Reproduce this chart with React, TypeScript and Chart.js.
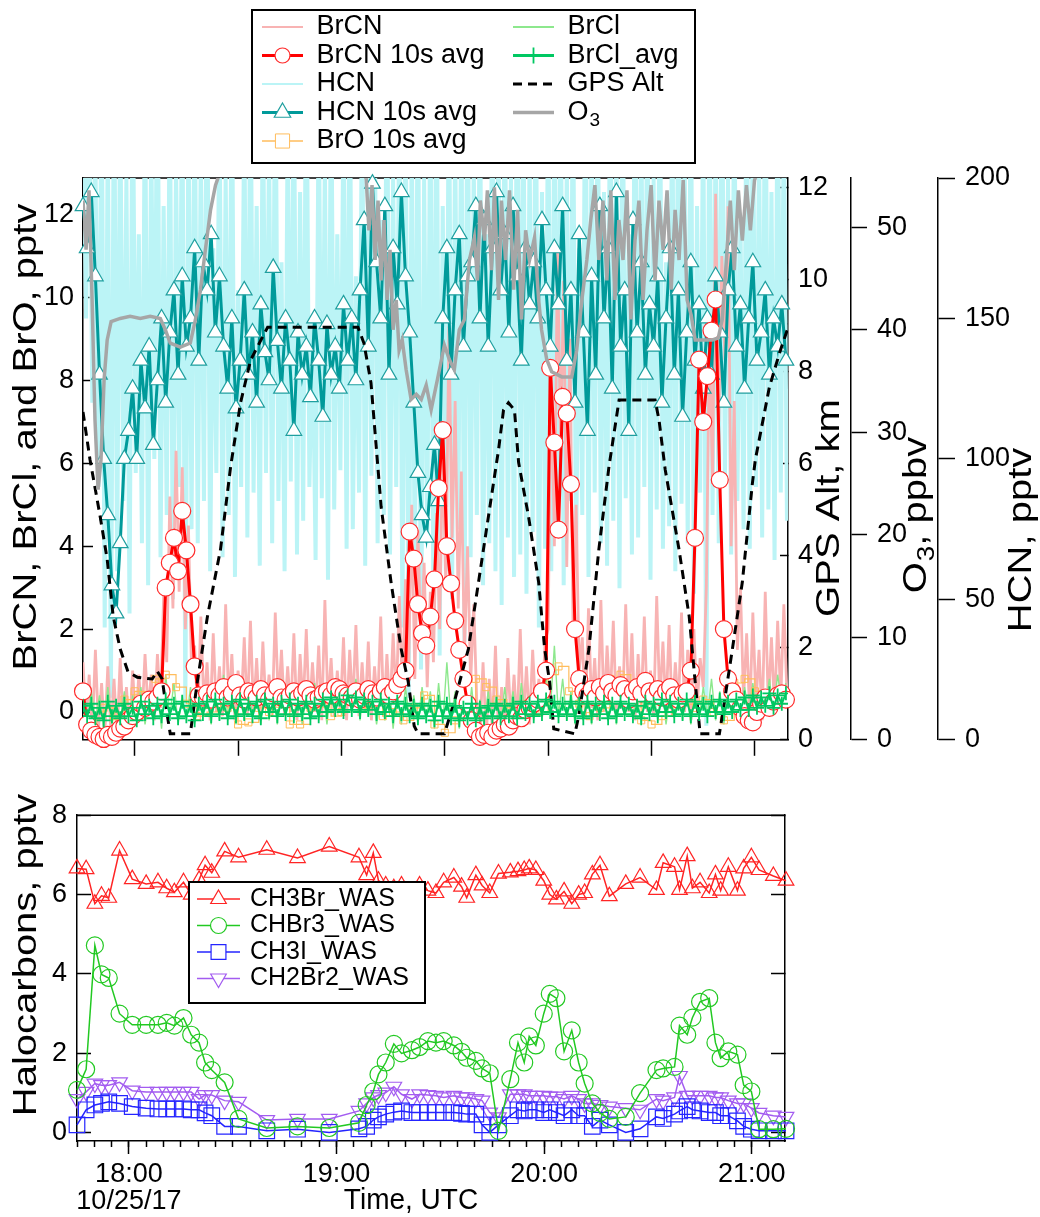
import React, { useEffect, useRef } from 'react';
import { Chart, registerables } from 'chart.js';

Chart.register(...registerables);

const FONT = '"Liberation Sans", Arial, Helvetica, sans-serif';

// ---------------- time axis (decimal hours UTC) ----------------
const T_MIN = 17.75;
const T_MAX = 21.16;
const AVG_T0 = 17.75; // 10 s averaged series, one value per 1.2 min
const AVG_DT = 0.02;
const RAW_T0 = 17.75; // raw series, one value per 0.9 min
const RAW_DT = 0.015;
const BRO_T0 = 17.75; // BrO 10 s avg, one value per 3 min
const BRO_DT = 0.05;

const X_TICK_HOURS = [18, 19, 20, 21];
const X_TICK_LABELS = ['18:00', '19:00', '20:00', '21:00'];
const DATE_LABEL = '10/25/17';

// ---------------- top panel data ----------------
const brcnRaw = [
  1.2, -0.3, 0.9, -0.5, 1.5, -0.4, 0.7, -0.6, 1.1, -0.5, 0.8, -0.6, 1.3, -0.4, 0.6, -0.5, 1.0, -0.3, 0.9, -0.2, 1.4, 0.0,
  0.9, -0.2, 1.4, 0.1, 2.8, 1.2, 5.2, 2.5, 6.3, 2.9, 5.9, 2.0, 4.5, 1.0,
  1.6, -0.1, 2.3, 0.1, 1.2, -0.2, 1.9, 0.0, 1.1, -0.1, 2.6, 0.2, 1.4, -0.2, 1.0, 0.1, 1.8, -0.1, 2.2, 0.0,
  1.3, -0.2, 1.7, 0.1, 0.9, -0.1, 2.4, 0.2, 1.5, -0.1, 1.1, 0.0, 1.9, -0.2, 1.4, 0.1, 2.0, -0.1, 1.2, 0.0,
  1.6, -0.2, 2.7, 0.1, 1.3, -0.1, 1.0, 0.0, 1.8, -0.2, 1.5, 0.1, 2.1, -0.1, 1.2, 0.0, 1.7, -0.2, 1.1, 0.1,
  2.3, -0.1, 1.4, 0.0, 1.9, 0.2, 2.8,
  0.5, 3.2, 1.0, 5.0, 0.8, 4.4, 1.5, 3.6, 0.6, 2.9, 1.2, 4.8, 2.0, 6.5, 3.0, 9.3, 4.2, 7.5, 2.5, 5.8, 1.4, 4.0, 0.7, 2.6, 0.2,
  -0.5, 1.2, -0.6, 0.8, -0.4, 1.6, -0.6, 0.6, -0.5, 1.3, -0.3, 0.9, -0.4, 2.0, -0.2, 1.1, -0.3, 1.5, 0.0, 0.8, -0.1, 1.7,
  2.0, 8.5, 4.0, 11.2, 6.5, 10.4, 3.5, 9.0, 2.2, 5.0, 1.0,
  1.8, -0.1, 2.5, 0.1, 1.3, -0.2, 2.7, 0.0, 1.6, 0.2, 2.2, -0.1, 1.1, 0.1, 2.6, 0.0, 1.9, -0.2, 1.4, 0.1,
  2.3, 0.0, 1.0, -0.1, 2.8, 0.2, 1.7, 0.0, 2.1, -0.1, 1.2, 0.1, 2.4, 0.0, 1.5, -0.2, 2.0, 0.1, 1.3, 0.6,
  3.0, 9.0, 5.5, 12.5, 7.0, 11.0, 8.5, 12.2, 4.0, 7.5, 1.5, 3.0,
  0.3, 1.9, -0.1, 2.4, 0.2, 1.5, -0.2, 2.9, 0.1, 1.8, 0.0, 2.2, 0.3, 2.6, 0.4,
];

const hcnRaw = [
  230, 150, 245, 120, 210, 90, 240, 40, 220, 15, 250,
  60, 230, 85, 200, 45, 250, 95, 180, 70, 240, 55, 215, 100, 260, 65, 190, 80, 235, 50, 205, 90, 245, 10, 225, 75,
  240, 70, 210, 85, 255, 60, 175, 95, 230, 65, 200, 80, 250, 58, 160, 90, 225, 72, 245, 88,
  190, 62, 235, 95, 210, 70, 255, 85, 170, 60, 220, 92, 240, 66, 195, 78, 260, 90, 150, 64,
  230, 86, 205, 57, 245, 82, 180, 96, 225, 68, 250, 75, 165, 88, 235, 62, 215, 94, 240, 70,
  185, 80, 255, 66, 200, 90, 230,
  40, 240, 15, 220, 55, 250, 25, 200, 70, 235, 45, 260, 30, 190, 60, 245, 50, 215, 75, 230,
  35, 255, 65, 205, 80, 240, 55, 180, 70, 250, 60, 225, 48, 245, 72, 200, 58, 260, 66, 235,
  52, 210, 74, 250, 40, 195, 68, 240,
  60, 230, 75, 250, 55, 205, 85, 240, 65, 175, 80, 255, 58, 220, 88, 235, 70, 195, 62, 250,
  78, 215, 54, 245, 86, 180, 66, 260, 72, 225, 90, 240, 57, 200, 82, 250, 68, 170, 76, 235,
  60, 255, 84, 210, 70, 245, 52, 190, 88, 230,
  5, 245, 80, 220, 70, 255, 92, 200, 66, 240, 85, 185, 75, 250, 68, 230, 90, 210, 72, 260, 82, 195, 64, 245, 88, 225, 78,
];

const brcnAvg = [
  0.5,
  -0.3, -0.45, -0.55, -0.6, -0.65, -0.55, -0.6, -0.5, -0.4, -0.35,
  -0.2, -0.1, 0.0, 0.2, 0.1, 0.3, 0.25,
  0.35, 0.5,
  3.0, 3.6, 4.2, 3.4, 4.85, 3.9, 2.6, 1.1, 0.4,
  0.35, 0.45, 0.3, 0.5, 0.4, 0.6, 0.35, 0.45, 0.7, 0.4, 0.3, 0.5, 0.45, 0.35, 0.55, 0.4, 0.3, 0.45, 0.6, 0.35,
  0.3, 0.4, 0.5, 0.35, 0.45, 0.55, 0.4, 0.3, 0.35, 0.45, 0.5, 0.4, 0.6, 0.55, 0.45, 0.4, 0.35, 0.5,
  0.3, 0.4, 0.55, 0.45, 0.35, 0.5, 0.6, 0.4, 0.5, 0.65, 0.8,
  1.0, 4.35, 3.7, 2.6, 1.9, 1.6, 2.3, 3.2, 5.4, 6.8, 4.0, 3.1, 2.2, 1.5, 0.8, 0.2,
  -0.2, -0.45, -0.6, -0.55, -0.5, -0.6, -0.45, -0.4, -0.3, -0.35, -0.2, -0.1, -0.15, 0.05, 0.1, 0.2, 0.3, 0.5,
  1.0, 8.3, 6.5, 4.4, 7.6, 7.2, 5.5, 2.0, 0.8, 0.5,
  0.4, 0.55, 0.35, 0.6, 0.45, 0.7, 0.5, 0.4, 0.65, 0.55, 0.3, 0.5, 0.6, 0.45, 0.75, 0.5, 0.4, 0.55, 0.35, 0.5,
  0.6, 0.4, 0.3, 0.45, 0.5, 1.0,
  4.2, 8.5, 7.0, 8.1, 9.2, 9.95, 5.6, 2.0, 0.8,
  0.5, 0.3, 0.1, -0.1, -0.2, -0.25, 0.0, 0.2, 0.35, 0.1, 0.25, 0.4, 0.45, 0.3,
];

const hcnAvg = [
  190, 175, 195, 165,
  130, 100, 80, 55, 45, 70, 100,
  110, 125, 100, 135, 118, 140, 105, 128, 150, 120, 145, 160, 130, 165, 140,
  150, 175, 135, 170, 160, 180, 145, 165,
  140, 125, 150, 118, 135, 160, 130, 145, 120, 155, 138, 128, 168, 142, 125, 150, 135, 110, 145, 130,
  140, 122, 150, 135, 115, 148, 130, 140, 125, 155, 135, 150, 128,
  160, 185, 140, 198, 170, 150, 190, 130, 175, 155, 195, 165, 145,
  120, 95, 80, 72, 90, 105, 85,
  150, 175, 130, 160, 180, 140, 165,
  170, 190, 150, 185, 140, 175, 195, 160, 180, 145, 190, 165, 135, 175, 155,
  170, 150, 185, 160, 140, 175, 155, 190,
  135, 160, 120, 180, 145, 110, 165, 130, 190,
  150, 175, 125, 195, 140, 160, 110, 185, 145, 170, 130, 155,
  140, 165, 120, 150, 175, 130, 160, 115, 145, 170, 135, 155, 125,
  150, 130, 165, 145, 120, 160, 175, 140, 155, 125, 150, 170, 135, 145, 160, 130, 150, 140, 155, 135,
];

const broAvg = [
  -0.15, -0.2, 0.1, -0.1, 0.3, 0.5, 0.4, 0.8, 0.9, 0.6,
  0.2, -0.1, 0.0, 0.2, 0.1, -0.3, -0.25, 0.1, 0.0, 0.2,
  -0.3, -0.3, 0.1, 0.2, -0.1, 0.0, 0.3, 0.1, 0.2, -0.1,
  0.0, -0.2, 0.1, 0.4, -0.3, -0.5, -0.2, 0.2, 0.8, 0.6,
  0.3, 0.1, -0.1, 0.2, 0.0, 0.9, 1.1, 0.5, 0.2, -0.1,
  0.1, 0.8, 0.9, 0.3, -0.2, -0.3, -0.1, 0.2, 0.4, 0.1,
  0.3, 0.0, -0.2, 0.7, 0.8, 0.5, 0.2, 0.4, 0.3,
];

const brclRaw = [
  0.3, -0.3, 0.5, -0.2, 0.4, -0.4, 0.6, -0.3, 0.2, -0.2,
  0.5, -0.3, 0.4, -0.1, 0.6, -0.3, 0.3, -0.2, 0.5, -0.4,
  0.9, -0.1, 0.7, -0.3, 0.4, -0.2, 0.6, -0.3, 0.5, -0.1,
  0.4, -0.3, 0.6, -0.2, 0.9, -0.1, 0.5, -0.3, 0.4, -0.2,
  0.6, -0.1, 0.5, -0.3, 0.7, -0.2, 0.4, -0.3, 0.8, -0.1,
  0.5, -0.2, 0.6, -0.3, 0.4, -0.1, 0.7, -0.2, 0.5, -0.3,
  0.6, 0.0, 0.7, -0.1, 0.5, 0.0, 0.8, -0.2, 0.6, -0.1,
  0.5, -0.3, 0.4, -0.2, 0.7, -0.4, 0.5, -0.3, 0.6, -0.2,
  0.4, -0.3, 0.6, -0.2, 0.5, -0.4, 0.7, -0.3, 1.2, -0.2,
  0.5, -0.4, 0.4, -0.3, 0.6, -0.4, 0.3, -0.3, 0.5, -0.2,
  0.4, -0.3, 0.6, -0.2, 0.5, -0.3, 0.7, -0.1, 0.4, -0.2,
  0.6, -0.1, 0.9, 0.0, 1.6, -0.1, 0.8, -0.2, 0.5, -0.3,
  0.6, -0.2, 0.5, -0.3, 0.7, -0.1, 0.4, -0.2, 0.6, -0.3,
  0.5, -0.1, 0.7, -0.2, 0.4, -0.3, 0.6, -0.1, 0.5, -0.2,
  0.7, -0.3, 0.4, -0.1, 0.6, -0.2, 0.5, -0.3, 0.4, -0.2,
  0.6, -0.1, 0.8, -0.2, 0.5, -0.3, 0.6, -0.1, 0.4, -0.2,
  0.6, 0.0, 0.7, -0.1, 0.5, 0.1, 0.8, 0.0, 0.9, 0.2,
  0.7,
];

const brclAvg = [
  0.15, -0.1, 0.2, -0.15, 0.1, -0.2, 0.25, -0.1, 0.15, -0.15,
  0.2, -0.1, 0.1, -0.2, 0.25, -0.05, 0.15, -0.15, 0.2, -0.1,
  0.3, -0.05, 0.2, -0.15, 0.25, -0.1, 0.15, -0.2, 0.2, -0.05,
  0.25, -0.1, 0.3, -0.05, 0.2, -0.15, 0.25, -0.1, 0.3, -0.05,
  0.2, -0.1, 0.25, -0.15, 0.3, 0.0, 0.2, -0.1, 0.25, -0.05,
  0.3, -0.1, 0.2, -0.05, 0.25, -0.15, 0.2, -0.1, 0.3, 0.0,
  0.35, 0.05, 0.3, 0.0, 0.4, 0.05, 0.35, 0.0, 0.3, 0.05,
  0.25, -0.05, 0.3, 0.0, 0.2, -0.1, 0.25, -0.05, 0.2, -0.1,
  0.15, -0.15, 0.2, -0.1, 0.15, -0.2, 0.25, -0.1, 0.2, -0.15,
  0.15, -0.2, 0.1, -0.15, 0.2, -0.2, 0.1, -0.15, 0.15, -0.1,
  0.2, -0.15, 0.15, -0.1, 0.2, -0.15, 0.25, -0.05, 0.2, -0.1,
  0.25, -0.05, 0.3, 0.0, 0.25, -0.1, 0.2, -0.05, 0.25, -0.1,
  0.2, -0.15, 0.25, -0.1, 0.2, -0.05, 0.25, -0.15, 0.2, -0.1,
  0.25, -0.05, 0.2, -0.1, 0.15, -0.15, 0.25, -0.05, 0.2, -0.1,
  0.3, 0.0, 0.25, -0.1, 0.2, -0.05, 0.3, -0.1, 0.25, -0.05,
  0.2, -0.1, 0.25, 0.0, 0.3, -0.05, 0.25, 0.0, 0.3, 0.05,
  0.35, 0.05, 0.4, 0.1, 0.35, 0.15, 0.45, 0.1, 0.4, 0.2,
  0.45,
];

const gpsTime = [
  17.750, 17.784, 17.833, 17.867, 17.896, 17.930, 17.968, 18.012, 18.085, 18.109,
  18.133, 18.158, 18.172, 18.269, 18.303, 18.352, 18.415, 18.464, 18.512, 18.561,
  18.643, 19.080, 19.109, 19.143, 19.192, 19.240, 19.289, 19.323, 19.352, 19.371,
  19.498, 19.546, 19.614, 19.663, 19.711, 19.760, 19.784, 19.808, 19.837, 19.857,
  19.905, 19.954, 19.983, 20.007, 20.027, 20.129, 20.148, 20.197, 20.245, 20.294,
  20.343, 20.517, 20.536, 20.566, 20.633, 20.682, 20.711, 20.735, 20.828, 20.842,
  20.891, 20.939, 20.988, 21.002, 21.070, 21.119, 21.172,
];
const gpsAlt = [
  7.12, 6.08, 4.85, 3.92, 2.68, 1.97, 1.47, 1.36, 1.32, 1.49,
  1.32, 0.52, 0.13, 0.13, 1.26, 2.68, 4.13, 5.93, 7.32, 8.25,
  8.96, 8.96, 8.61, 7.75, 5.06, 3.42, 1.97, 1.26, 0.30, 0.13,
  0.13, 0.82, 1.97, 3.42, 4.85, 6.30, 7.16, 7.32, 7.16, 6.02,
  4.85, 3.42, 1.97, 1.26, 0.24, 0.13, 0.52, 1.97, 4.13, 5.93,
  7.38, 7.38, 6.95, 5.87, 4.13, 2.68, 1.26, 0.13, 0.13, 0.52,
  1.97, 3.42, 5.58, 6.08, 7.66, 8.40, 9.11,
];

const o3Time = [
  17.750, 17.765, 17.779, 17.794, 17.808, 17.823, 17.837, 17.852, 17.867, 17.886,
  17.930, 17.978, 18.027, 18.075, 18.124, 18.148, 18.172, 18.221, 18.269, 18.294,
  18.318, 18.342, 18.367, 18.391, 18.415, 18.464, 18.998, 19.119, 19.133, 19.148,
  19.163, 19.177, 19.192, 19.206, 19.221, 19.235, 19.250, 19.265, 19.279, 19.294,
  19.313, 19.337, 19.362, 19.386, 19.410, 19.434, 19.464, 19.498, 19.522, 19.546,
  19.570, 19.595, 19.619, 19.643, 19.658, 19.672, 19.692, 19.706, 19.726, 19.740,
  19.760, 19.774, 19.794, 19.813, 19.833, 19.852, 19.871, 19.891, 19.910, 19.934,
  19.954, 19.968, 19.993, 20.017, 20.066, 20.114, 20.138, 20.163, 20.187, 20.206,
  20.226, 20.245, 20.265, 20.284, 20.303, 20.323, 20.342, 20.362, 20.381, 20.400,
  20.420, 20.439, 20.459, 20.478, 20.498, 20.517, 20.536, 20.556, 20.575, 20.595,
  20.614, 20.633, 20.653, 20.672, 20.692, 20.711, 20.745, 20.794, 20.823, 20.842,
  20.862, 20.881, 20.900, 20.920, 20.939, 20.959, 20.978, 20.998, 21.017, 21.172,
];
const o3Val = [
  52.6, 47.8, 53.6, 42.9, 31.2, 24.4, 27.3, 35.1, 39.0, 40.8,
  41.1, 41.3, 41.1, 41.3, 41.1, 40.0, 38.7, 38.3, 38.7, 41.0,
  43.9, 47.8, 51.7, 54.1, 55.5, 60, 60, 55.1, 49.7, 54.1,
  46.8, 52.6, 44.8, 50.7, 42.9, 47.8, 40.0, 42.9, 38.0, 39.0,
  36.1, 33.2, 33.7, 33.2, 34.6, 32.2, 35.1, 38.5, 37.1, 36.1,
  40.0, 41.0, 46.8, 49.0, 44.8, 52.6, 48.7, 53.6, 45.8, 53.9,
  42.9, 52.6, 46.8, 53.6, 43.9, 51.7, 41.0, 49.7, 46.8, 49.0,
  42.9, 40.0, 37.1, 35.9, 35.4, 35.4, 38.0, 42.9, 46.8, 50.7,
  54.1, 46.8, 52.6, 44.8, 53.6, 42.9, 50.7, 46.8, 53.6, 41.0,
  48.7, 52.6, 42.9, 49.7, 54.1, 44.8, 52.6, 47.8, 53.6, 43.9,
  51.7, 46.8, 54.6, 42.9, 41.4, 39.0, 39.0, 39.0, 39.2, 41.0,
  46.8, 52.6, 45.8, 53.6, 48.7, 54.1, 49.7, 54.6, 55.5, 60,
];

// ---------------- bottom panel data (WAS canisters) ----------------
const wasTime = [
  17.750, 17.794, 17.836, 17.868, 17.903, 17.955, 18.016, 18.083, 18.140, 18.182,
  18.219, 18.263, 18.300, 18.338, 18.367, 18.399, 18.461, 18.528, 18.664, 18.812,
  18.965, 19.108, 19.145, 19.177, 19.202, 19.237, 19.276, 19.313, 19.363, 19.400,
  19.440, 19.479, 19.516, 19.565, 19.602, 19.627, 19.671, 19.701, 19.738, 19.780,
  19.837, 19.874, 19.904, 19.928, 19.960, 19.998, 20.027, 20.059, 20.096, 20.133,
  20.166, 20.195, 20.232, 20.269, 20.314, 20.393, 20.462, 20.541, 20.573, 20.628,
  20.652, 20.689, 20.714, 20.751, 20.795, 20.825, 20.850, 20.887, 20.931, 20.961,
  20.998, 21.035, 21.104, 21.165,
];
const ch3br = [
  6.66, 6.64, 5.77, 5.97, 5.92, 7.11, 6.39, 6.27, 6.31, 6.16,
  6.06, 6.31, 6.00, 6.37, 6.74, 6.55, 7.09, 6.94, 7.13, 6.92,
  7.21, 6.94, 6.49, 7.05, 6.35, 6.23, 6.16, 6.23, 5.92, 6.23,
  6.10, 6.04, 6.31, 6.43, 6.20, 5.92, 6.49, 6.23, 6.04, 6.53,
  6.56, 6.59, 6.62, 6.66, 6.62, 6.35, 6.00, 5.88, 6.08, 5.77,
  6.00, 6.04, 6.51, 6.74, 5.96, 6.27, 6.43, 6.12, 6.80, 6.70,
  6.12, 6.97, 6.16, 6.31, 6.04, 6.51, 6.10, 6.70, 6.10, 6.66,
  6.94, 6.62, 6.47, 6.35,
];
const chbr3 = [
  1.08, 1.60, 4.72, 3.99, 3.90, 3.00, 2.72, 2.72, 2.72, 2.77,
  2.70, 2.89, 2.47, 2.27, 1.77, 1.58, 1.27, 0.35, 0.12, 0.16,
  0.12, 0.25, 0.70, 1.04, 1.47, 1.77, 2.24, 2.00, 2.08, 2.16,
  2.31, 2.27, 2.31, 2.20, 2.04, 1.89, 1.81, 1.62, 1.50, 0.05,
  1.35, 2.27, 1.77, 2.43, 2.20, 3.00, 3.50, 3.39, 2.05, 2.58,
  1.77, 1.24, 0.74, 0.50, 0.35, 0.40, 1.00, 1.58, 1.62, 1.66,
  2.70, 2.47, 2.90, 3.30, 3.39, 2.27, 1.88, 2.05, 1.97, 1.20,
  1.04, 0.09, 0.09, 0.10,
];
const ch3i = [
  0.20, 0.58, 0.70, 0.74, 0.78, 0.74, 0.66, 0.62, 0.60, 0.60,
  0.60, 0.60, 0.58, 0.58, 0.50, 0.43, 0.16, 0.16, 0.05, 0.09,
  0.01, 0.10, 0.16, 0.32, 0.40, 0.47, 0.52, 0.55, 0.51, 0.51,
  0.51, 0.51, 0.51, 0.51, 0.49, 0.47, 0.47, 0.20, 0.01, 0.20,
  0.43, 0.58, 0.55, 0.58, 0.58, 0.51, 0.58, 0.51, 0.43, 0.58,
  0.43, 0.43, 0.16, 0.32, 0.20, 0.01, 0.10, 0.40, 0.36, 0.47,
  0.55, 0.66, 0.58, 0.55, 0.51, 0.51, 0.43, 0.43, 0.30, 0.16,
  0.09, 0.05, 0.05, 0.05,
];
const ch2br2 = [
  0.85, 1.03, 1.24, 1.20, 1.20, 1.27, 1.06, 1.03, 1.03, 1.03,
  1.03, 1.03, 1.03, 0.85, 0.95, 0.95, 0.81, 0.78, 0.32, 0.35,
  0.35, 0.55, 0.74, 0.89, 0.95, 1.01, 1.16, 0.97, 0.85, 0.97,
  0.95, 0.93, 0.89, 0.93, 0.89, 0.89, 0.85, 0.81, 0.51, 0.39,
  0.97, 0.97, 0.97, 0.93, 0.93, 0.93, 0.91, 0.91, 0.85, 0.93,
  0.85, 0.74, 0.74, 0.70, 0.66, 0.62, 0.58, 0.85, 0.81, 0.89,
  1.43, 0.93, 0.93, 0.93, 0.93, 0.89, 0.89, 0.81, 0.74, 0.74,
  0.62, 0.50, 0.43, 0.40,
];

// ---------------- helpers ----------------
const sampleTimes = (t0: number, dt: number, n: number) =>
  Array.from({ length: n }, (_, i) => Math.round((t0 + dt * i) * 100000) / 100000);
const pts = (xs: number[], ys: number[]) => ys.map((y, i) => ({ x: xs[i], y }));

function drawMarker(ctx: any, style: string, x: number, y: number, r: number, rot: number, fill: string | null, stroke: string, lw: number) {
  ctx.save();
  ctx.translate(x, y);
  ctx.rotate((rot * Math.PI) / 180);
  ctx.beginPath();
  if (style === 'circle') {
    ctx.arc(0, 0, r, 0, Math.PI * 2);
  } else if (style === 'triangle') {
    for (let k = 0; k < 3; k++) {
      const a = (k * 2 * Math.PI) / 3;
      const px = Math.sin(a) * r;
      const py = -Math.cos(a) * r;
      if (k === 0) ctx.moveTo(px, py);
      else ctx.lineTo(px, py);
    }
    ctx.closePath();
  } else if (style === 'rect') {
    const s = r * Math.SQRT1_2;
    ctx.rect(-s, -s, 2 * s, 2 * s);
  } else if (style === 'cross') {
    ctx.moveTo(0, -r);
    ctx.lineTo(0, r);
    ctx.moveTo(-r, 0);
    ctx.lineTo(r, 0);
  }
  if (fill && style !== 'cross') {
    ctx.fillStyle = fill;
    ctx.fill();
  }
  ctx.lineWidth = lw;
  ctx.strokeStyle = stroke;
  ctx.stroke();
  ctx.restore();
}

const boxLegend = {
  id: 'boxLegend',
  afterDraw(chart: any, _a: any, o: any) {
    if (!o || !o.items) return;
    const ctx = chart.ctx;
    ctx.save();
    const [bx, by, bw, bh] = o.box;
    ctx.fillStyle = '#fff';
    ctx.fillRect(bx, by, bw, bh);
    ctx.lineWidth = 2;
    ctx.strokeStyle = '#000';
    ctx.strokeRect(bx, by, bw, bh);
    for (const it of o.items) {
      const ds = chart.data.datasets[it.ds];
      ctx.save();
      ctx.strokeStyle = ds.borderColor;
      ctx.lineWidth = it.lw ?? ds.borderWidth;
      ctx.setLineDash(ds.borderDash || []);
      ctx.beginPath();
      ctx.moveTo(it.x, it.y);
      ctx.lineTo(it.x + o.sampleW, it.y);
      ctx.stroke();
      ctx.restore();
      if (ds.pointRadius > 0) {
        drawMarker(ctx, ds.pointStyle, it.x + o.sampleW / 2, it.y, it.r ?? ds.pointRadius, ds.pointRotation || 0, '#fff', ds.pointBorderColor, ds.pointBorderWidth || 1);
      }
      ctx.fillStyle = '#000';
      ctx.textBaseline = 'middle';
      ctx.textAlign = 'left';
      ctx.font = `${o.font}px ${FONT}`;
      const tx = it.x + o.sampleW + o.gap;
      const main = it.text ?? ds.label;
      ctx.fillText(main, tx, it.y);
      if (it.sub) {
        const w = ctx.measureText(main).width;
        ctx.font = `${Math.round(o.font * 0.7)}px ${FONT}`;
        ctx.fillText(it.sub, tx + w + 1, it.y + o.font * 0.3);
      }
    }
    ctx.restore();
  },
};

// axis titles, drawn at fixed spots (vertical ones read bottom-to-top)
const axisTitles = {
  id: 'axisTitles',
  afterDraw(chart: any, _a: any, o: any) {
    if (!o || !o.items) return;
    const ctx = chart.ctx;
    for (const t of o.items) {
      const size = t.size;
      ctx.save();
      ctx.translate(t.x, t.y);
      if (t.vertical) ctx.rotate(-Math.PI / 2);
      if (t.squash) ctx.scale(1, t.squash);
      ctx.fillStyle = '#000';
      ctx.textBaseline = 'middle';
      ctx.textAlign = 'left';
      let total = 0;
      for (const [s, sub] of t.parts) {
        ctx.font = `${sub ? Math.round(size * 0.7) : size}px ${FONT}`;
        total += ctx.measureText(s).width + (sub ? 1 : 0);
      }
      let cx = -total / 2;
      for (const [s, sub] of t.parts) {
        ctx.font = `${sub ? Math.round(size * 0.7) : size}px ${FONT}`;
        ctx.fillText(s, cx + (sub ? 1 : 0), sub ? size * 0.3 : 0);
        cx += ctx.measureText(s).width + (sub ? 1 : 0);
      }
      ctx.restore();
    }
  },
};

const frameTop = {
  id: 'frameTop',
  beforeDatasetsDraw(chart: any) {
    const { ctx, chartArea } = chart;
    ctx.save();
    ctx.strokeStyle = '#000';
    ctx.lineWidth = 1.5;
    ctx.beginPath();
    ctx.moveTo(chartArea.left, chartArea.top);
    ctx.lineTo(chartArea.right, chartArea.top);
    ctx.stroke();
    ctx.restore();
  },
};

const tickFont = { family: FONT, size: 27 };
const TITLE_SIZE = 40;
const SQUASH = 0.84;
const axisBorder = { display: true, color: '#000', width: 1.5 };

function yAxis(extra: any) {
  return {
    type: 'linear',
    border: axisBorder,
    ...extra,
    grid: { display: true, drawOnChartArea: false, drawTicks: true, color: '#000', tickColor: '#000', tickWidth: 1.5, ...(extra.grid || {}) },
    ticks: { color: '#000', font: tickFont, includeBounds: false, ...(extra.ticks || {}) },
  };
}

function topConfig(): any {
  const tAvg = sampleTimes(AVG_T0, AVG_DT, hcnAvg.length);
  const tRaw = sampleTimes(RAW_T0, RAW_DT, hcnRaw.length);
  const tBro = sampleTimes(BRO_T0, BRO_DT, broAvg.length);
  return {
    type: 'line',
    data: {
      datasets: [
        { label: 'BrCN', data: pts(tRaw, brcnRaw), yAxisID: 'yL', borderColor: '#f8b3b3', borderWidth: 2.8, borderJoinStyle: 'bevel', pointRadius: 0, order: 8 },
        { label: 'BrCN 10s avg', data: pts(tAvg, brcnAvg), yAxisID: 'yL', borderColor: '#ff0000', borderWidth: 3, pointStyle: 'circle', pointRadius: 8.5, pointBackgroundColor: '#fff', pointBorderColor: '#ff2a2a', pointBorderWidth: 1.2, order: 4, clip: false },
        { label: 'HCN', data: pts(tRaw, hcnRaw), yAxisID: 'hcn', borderColor: '#bbf4f6', borderWidth: 4, borderJoinStyle: 'bevel', pointRadius: 0, order: 9 },
        { label: 'HCN 10s avg', data: pts(tAvg, hcnAvg), yAxisID: 'hcn', borderColor: '#009a9a', borderWidth: 3, pointStyle: 'triangle', pointRadius: 9, pointBackgroundColor: '#fff', pointBorderColor: '#1f9f9f', pointBorderWidth: 1.2, order: 5, clip: false },
        { label: 'BrO 10s avg', data: pts(tBro, broAvg), yAxisID: 'yL', borderColor: '#ffbd5c', borderWidth: 1.2, stepped: true, pointStyle: 'rect', pointRadius: 5, pointBackgroundColor: 'rgba(255,255,255,0)', pointBorderColor: '#ffbd5c', pointBorderWidth: 1, order: 6 },
        { label: 'BrCl', data: pts(tAvg, brclRaw), yAxisID: 'yL', borderColor: '#8de88d', borderWidth: 1.4, borderJoinStyle: 'bevel', pointRadius: 0, order: 7 },
        { label: 'BrCl_avg', data: pts(tAvg, brclAvg), yAxisID: 'yL', borderColor: '#00c862', borderWidth: 2, pointStyle: 'cross', pointRadius: 7, pointBorderColor: '#00c862', pointBorderWidth: 1.8, order: 1 },
        { label: 'GPS Alt', data: pts(gpsTime, gpsAlt), yAxisID: 'gps', borderColor: '#000', borderWidth: 3, borderDash: [9, 6], pointRadius: 0, order: 3 },
        { label: 'O3', data: pts(o3Time, o3Val), yAxisID: 'o3', borderColor: '#a6a6a6', borderWidth: 3.5, pointRadius: 0, order: 2 },
      ],
    },
    options: {
      responsive: false,
      animation: false,
      devicePixelRatio: 1,
      events: [],
      layout: { padding: { top: 178, left: 0, right: 0, bottom: 0 }, autoPadding: false },
      plugins: {
        legend: { display: false },
        tooltip: { enabled: false },
        boxLegend: {
          box: [252, 10, 443, 153],
          sampleW: 41,
          gap: 13.5,
          font: 27,
          items: [
            { ds: 0, x: 262, y: 27, lw: 2 },
            { ds: 1, x: 262, y: 55.5, r: 7.5 },
            { ds: 2, x: 262, y: 84, lw: 2 },
            { ds: 3, x: 262, y: 112.5, r: 9.5 },
            { ds: 4, x: 262, y: 141, r: 10, lw: 1.5 },
            { ds: 5, x: 513, y: 27, lw: 2 },
            { ds: 6, x: 513, y: 55.5, r: 8, lw: 3 },
            { ds: 7, x: 513, y: 84 },
            { ds: 8, x: 513, y: 112.5, text: 'O', sub: '3', lw: 3.5 },
          ],
        },
        axisTitles: {
          items: [
            { parts: [['BrCN, BrCl, and BrO, pptv', false]], x: 27, y: 437, size: TITLE_SIZE, vertical: true, squash: SQUASH },
            { parts: [['GPS Alt, km', false]], x: 830, y: 508, size: TITLE_SIZE, vertical: true, squash: SQUASH },
            { parts: [['O', false], ['3', true], [', ppbv', false]], x: 917, y: 515, size: TITLE_SIZE, vertical: true, squash: SQUASH },
            { parts: [['HCN, pptv', false]], x: 1022, y: 540, size: TITLE_SIZE, vertical: true, squash: SQUASH },
          ],
        },
      },
      scales: {
        x: {
          type: 'linear',
          position: 'bottom',
          min: T_MIN,
          max: T_MAX,
          afterFit: (s: any) => { s.height = 33; },
          border: axisBorder,
          grid: { display: true, drawOnChartArea: false, drawTicks: true, tickLength: 16, color: '#000', tickColor: '#000', tickWidth: 1.5 },
          ticks: { display: false, stepSize: 0.5, includeBounds: false },
        },
        yL: yAxis({
          position: 'left',
          min: -0.67,
          max: 12.88,
          afterFit: (s: any) => { s.width = 83; },
          grid: { tickLength: -10 },
          ticks: { stepSize: 2, padding: 19 },
        }),
        gps: yAxis({
          position: 'right',
          weight: 0,
          min: 0,
          max: 12.2,
          afterFit: (s: any) => { s.width = 63; },
          grid: { tickLength: -8 },
          ticks: { stepSize: 2, padding: 18 },
        }),
        o3: yAxis({
          position: 'right',
          weight: 1,
          min: 0,
          max: 54.8,
          afterFit: (s: any) => { s.width = 87; },
          grid: { tickLength: 16 },
          ticks: { stepSize: 10, padding: 10 },
        }),
        hcn: yAxis({
          position: 'right',
          weight: 2,
          min: 0,
          max: 200,
          afterFit: (s: any) => { s.width = 102; },
          grid: { tickLength: 17 },
          ticks: { stepSize: 50, padding: 10 },
        }),
      },
    },
    plugins: [frameTop, boxLegend, axisTitles],
  };
}

function bottomConfig(): any {
  const mk = (label: string, ys: number[], color: string, style: string, r: number, rot = 0) => ({
    label,
    data: pts(wasTime, ys),
    xAxisID: 'x',
    yAxisID: 'yB',
    borderColor: color,
    borderWidth: 1.5,
    pointStyle: style,
    pointRadius: r,
    pointRotation: rot,
    pointBackgroundColor: 'rgba(255,255,255,0)',
    pointBorderColor: color,
    pointBorderWidth: 1.2,
    clip: false,
  });
  return {
    type: 'line',
    data: {
      datasets: [
        mk('CH3Br_WAS', ch3br, '#ff2424', 'triangle', 9),
        mk('CHBr3_WAS', chbr3, '#22c922', 'circle', 8.5),
        mk('CH3I_WAS', ch3i, '#2424ff', 'rect', 11),
        mk('CH2Br2_WAS', ch2br2, '#a35cf0', 'triangle', 9, 180),
      ],
    },
    options: {
      responsive: false,
      animation: false,
      devicePixelRatio: 1,
      events: [],
      layout: { padding: { top: 10, left: 0, right: 0, bottom: 0 }, autoPadding: false },
      plugins: {
        legend: { display: false },
        tooltip: { enabled: false },
        boxLegend: {
          box: [189, 107, 236, 121],
          sampleW: 43,
          gap: 10,
          font: 25,
          items: [
            { ds: 0, x: 197, y: 124, r: 9 },
            { ds: 1, x: 197, y: 150.5, r: 8 },
            { ds: 2, x: 197, y: 177, r: 10.5 },
            { ds: 3, x: 197, y: 203.5, r: 9 },
          ],
        },
        axisTitles: {
          items: [
            { parts: [['Halocarbons, pptv', false]], x: 27, y: 180, size: TITLE_SIZE, vertical: true, squash: SQUASH },
            { parts: [['Time, UTC', false]], x: 411, y: 426, size: 28, vertical: false, squash: 1.05 },
          ],
        },
      },
      scales: {
        x2: {
          type: 'linear',
          position: 'bottom',
          weight: 0,
          min: T_MIN,
          max: T_MAX,
          afterFit: (s: any) => { s.height = 0; },
          border: { display: false },
          grid: { display: true, drawOnChartArea: false, drawTicks: true, tickLength: 6, color: '#000', tickColor: '#000', tickWidth: 1.5 },
          ticks: { display: false, stepSize: 1 / 12, includeBounds: false },
        },
        x: {
          type: 'linear',
          position: 'bottom',
          weight: 1,
          min: T_MIN,
          max: T_MAX,
          afterFit: (s: any) => { s.height = 76; },
          border: axisBorder,
          grid: { display: true, drawOnChartArea: false, drawTicks: true, tickLength: 13, color: '#000', tickColor: '#000', tickWidth: 1.5 },
          ticks: {
            stepSize: 1,
            includeBounds: false,
            autoSkip: false,
            maxRotation: 0,
            padding: 7,
            color: '#000',
            font: { family: FONT, size: 27, lineHeight: 1.0 },
            callback: (v: any) => {
              const idx = X_TICK_HOURS.findIndex((h) => Math.abs(h - Number(v)) < 1e-6);
              if (idx < 0) return '';
              return idx === 0 ? [X_TICK_LABELS[idx], DATE_LABEL] : X_TICK_LABELS[idx];
            },
          },
        },
        yB: yAxis({
          position: 'left',
          min: -0.207,
          max: 8,
          afterFit: (s: any) => { s.width = 77; },
          grid: { tickLength: -14 },
          ticks: { stepSize: 2, padding: 24 },
        }),
        y2: yAxis({
          position: 'right',
          min: -0.207,
          max: 8,
          afterFit: (s: any) => { s.width = 255; },
          grid: { tickLength: -14 },
          ticks: { display: false, stepSize: 2 },
        }),
      },
    },
    plugins: [frameTop, boxLegend, axisTitles],
  };
}

export default function App() {
  const topRef = useRef<HTMLCanvasElement>(null);
  const botRef = useRef<HTMLCanvasElement>(null);
  useEffect(() => {
    const c1 = new Chart(topRef.current as HTMLCanvasElement, topConfig());
    const c2 = new Chart(botRef.current as HTMLCanvasElement, bottomConfig());
    return () => {
      c1.destroy();
      c2.destroy();
    };
  }, []);
  return (
    <div style={{ position: 'absolute', left: 0, top: 0, width: 1040, height: 1217, background: '#fff' }}>
      <canvas ref={topRef} width={1040} height={775} style={{ position: 'absolute', left: 0, top: 0, width: 1040, height: 775 }} />
      <canvas ref={botRef} width={1040} height={442} style={{ position: 'absolute', left: 0, top: 775, width: 1040, height: 442 }} />
    </div>
  );
}
